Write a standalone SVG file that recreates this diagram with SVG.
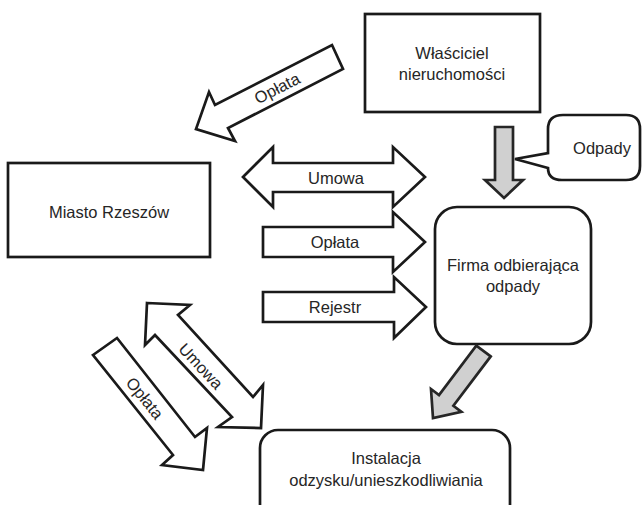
<svg xmlns="http://www.w3.org/2000/svg" width="644" height="505" viewBox="0 0 644 505">
<style>
.box{fill:#fff;stroke:#1a1a1a;stroke-width:2.7}
.arr{fill:#fff;stroke:#1a1a1a;stroke-width:2.7;stroke-linejoin:miter}
.gray{fill:#d0d0d0;stroke:#262626;stroke-width:2.7;stroke-linejoin:miter}
text{font-family:"Liberation Sans",Arial,sans-serif;font-size:16.5px;fill:#262626;text-anchor:middle;dominant-baseline:central}
</style>
<rect width="644" height="505" fill="#fff"/>
<g id="wlasciciel">
<rect class="box" x="365" y="14" width="175" height="98"/>
<text x="452" y="53">Właściciel</text>
<text x="452" y="74">nieruchomości</text>
</g>
<g id="miasto">
<rect class="box" x="8" y="163" width="202" height="94"/>
<text x="109" y="212">Miasto Rzeszów</text>
</g>
<g id="odpady">
<path class="box" d="M563,115 H626 Q640,115 640,129 V166 Q640,180 626,180 H562 Q548,180 548,168 L515,159 L548,153 V129 Q548,115 563,115 Z"/>
<text x="602" y="148">Odpady</text>
</g>
<g id="firma">
<rect class="box" x="435" y="207" width="156" height="137" rx="22" ry="22"/>
<text x="513" y="265">Firma odbierająca</text>
<text x="513" y="286">odpady</text>
</g>
<g id="instalacja">
<rect class="box" x="260" y="430" width="250" height="95" rx="18" ry="18"/>
<text x="386" y="458">Instalacja</text>
<text x="386" y="480">odzysku/unieszkodliwiania</text>
</g>
<g id="connectors">
<g id="oplata-top">
<polygon class="arr" points="332,45 343,69 228,128 235,141 196,129 209,92 215,105"/>
<text x="277" y="88" transform="rotate(-27 277 88)">Opłata</text>
</g>
<g id="umowa-h">
<polygon class="arr" points="243,177 273,147 273,163 393,163 393,147 425,177 393,207 393,192 273,192 273,207"/>
<text x="336" y="178">Umowa</text>
</g>
<g id="oplata-h">
<polygon class="arr" points="263,227 393,227 393,212 425,242 393,272 393,257 263,257"/>
<text x="335" y="242">Opłata</text>
</g>
<g id="rejestr-h">
<polygon class="arr" points="263,292 394,292 394,277 426,307 394,338 394,322 263,322"/>
<text x="335" y="307">Rejestr</text>
</g>
<g id="umowa-d">
<polygon class="arr" points="147,303 190,305 178,315 253,397 263,385 261,428 218,427 232,417 155,335 145,345"/>
<text x="201" y="366" transform="rotate(47 201 366)">Umowa</text>
</g>
<g id="oplata-d">
<polygon class="arr" points="93,355 117,338 195,437 207,428 203,470 162,465 173,455"/>
<text x="145" y="398" transform="rotate(51 145 398)">Opłata</text>
</g>
<polygon id="odpady-down" class="gray" points="495,127 513,127 513,180 523,180 504,198 485,180 495,180"/>
<polygon id="odpady-diag" class="gray" points="490.7,356.4 476.3,345.6 439,395 431,389 433,418 461.4,411.8 453.4,405.8"/>
</g>
</svg>
